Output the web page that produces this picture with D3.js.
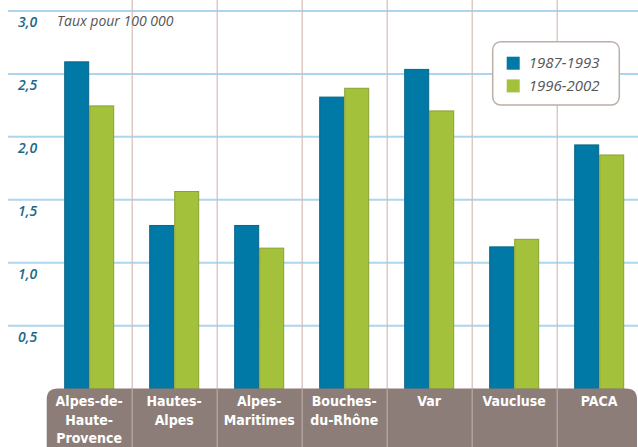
<!DOCTYPE html>
<html>
<head>
<meta charset="utf-8">
<script src="https://cdn.jsdelivr.net/npm/d3@7"></script>
<style>
  html, body { margin: 0; padding: 0; background: #fff; }
  svg { display: block; }
</style>
</head>
<body>
<div id="chart"></div>
<script>
// Données
const categories = [
  ["Alpes-de-", "Haute-", "Provence"],
  ["Hautes-", "Alpes"],
  ["Alpes-", "Maritimes"],
  ["Bouches-", "du-Rhône"],
  ["Var"],
  ["Vaucluse"],
  ["PACA"],
];
const series = ["1987-1993", "1996-2002"];
const values1987 = [2.60, 1.30, 1.30, 2.32, 2.54, 1.13, 1.94];
const values1996 = [2.25, 1.57, 1.12, 2.39, 2.21, 1.19, 1.86];
const yTicks = [0.5, 1.0, 1.5, 2.0, 2.5, 3.0];

// Couleurs
const colors = { "1987-1993": "#0079a6", "1996-2002": "#a4c13b" };
const strokes = { "1987-1993": "#0a6585", "1996-2002": "#88a232" };

const width = 638, height = 447;
const svg = d3.select("#chart").append("svg")
  .attr("width", width).attr("height", height);

const keys = categories.map((c) => c.join(""));
const x = d3.scaleBand().domain(keys).range([46.7, 641.7]).padding(0);
const xs = d3.scaleBand().domain(series).range([0, 50]).padding(0);
const y = d3.scaleLinear().domain([0, 3]).range([388.6, 11]);

// Grille horizontale
svg.append("g").selectAll("line").data(yTicks).enter().append("line")
  .attr("x1", 8).attr("x2", width)
  .attr("y1", (d) => y(d)).attr("y2", (d) => y(d))
  .attr("stroke", "#acd6ee").attr("stroke-width", 2);

// Séparateurs verticaux
const seps = keys.slice(1);
svg.append("g").selectAll("line").data(seps).enter().append("line")
  .attr("x1", (d) => x(d) + 0.5).attr("x2", (d) => x(d) + 0.5)
  .attr("y1", 0).attr("y2", y(0))
  .attr("stroke", "#d5bdb5").attr("stroke-width", 1.2);

// Étiquettes de l'axe Y
svg.append("g").selectAll("text").data(yTicks).enter().append("text")
  .attr("x", 18).attr("y", (d) => y(d) + 16)
  .attr("font-family", "'Open Sans', sans-serif")
  .attr("font-style", "italic").attr("font-weight", 600).attr("font-size", 14)
  .attr("fill", "#1c6886")
  .text((d) => d3.format(".1f")(d).replace(".", ","));

svg.append("text")
  .attr("x", 57).attr("y", 26)
  .attr("font-family", "'Open Sans', sans-serif")
  .attr("font-style", "italic").attr("font-size", 14)
  .attr("fill", "#555")
  .text("Taux pour 100 000");

// Barres
const rows = keys.map((k, i) => ({ key: k, "1987-1993": values1987[i], "1996-2002": values1996[i] }));
const groups = svg.append("g").selectAll("g").data(rows).enter().append("g")
  .attr("transform", (d) => `translate(${x(d.key) + x.bandwidth() / 2 - 25},0)`);

groups.selectAll("rect")
  .data((d) => series.map((s) => ({ s, v: d[s] })))
  .enter().append("rect")
  .attr("x", (d) => xs(d.s) + 0.5)
  .attr("y", (d) => y(d.v) + 0.5)
  .attr("width", xs.bandwidth() - 1)
  .attr("height", (d) => y(0) - y(d.v))
  .attr("fill", (d) => colors[d.s])
  .attr("stroke", (d) => strokes[d.s]);

// Bandeau des catégories
const bandTop = y(0);
const bx0 = 46.7, bx1 = 637, r = 11;
svg.append("path")
  .attr("d", `M${bx0},${height + 2} L${bx0},${bandTop + r} Q${bx0},${bandTop} ${bx0 + r},${bandTop}
    L${bx1 - r},${bandTop} Q${bx1},${bandTop} ${bx1},${bandTop + r} L${bx1},${height + 2} Z`)
  .attr("fill", "#8d7d78");

svg.append("g").selectAll("line").data(seps).enter().append("line")
  .attr("x1", (d) => x(d) + 0.5).attr("x2", (d) => x(d) + 0.5)
  .attr("y1", bandTop).attr("y2", height)
  .attr("stroke", "#b9aaa6").attr("stroke-width", 1.2);

const labels = svg.append("g").selectAll("text").data(categories).enter().append("text")
  .attr("text-anchor", "middle")
  .attr("font-family", "'DejaVu Sans Condensed', sans-serif")
  .attr("font-stretch", "condensed")
  .attr("font-weight", "bold").attr("font-size", 14)
  .attr("fill", "#fff");
labels.selectAll("tspan").data((d) => d.map((t) => ({ t, k: d.join("") }))).enter().append("tspan")
  .attr("x", (d) => x(d.k) + x.bandwidth() / 2)
  .attr("y", (d, i) => 406 + i * 18.5)
  .text((d) => d.t);

// Légende
const lg = svg.append("g").attr("transform", "translate(492.7,41.7)");
lg.append("rect")
  .attr("width", 126.6).attr("height", 63.3).attr("rx", 8)
  .attr("fill", "#fff").attr("stroke", "#bcaea8").attr("stroke-width", 1.5);
series.forEach((s, i) => {
  lg.append("rect").attr("x", 14).attr("y", 15 + i * 22.7)
    .attr("width", 13).attr("height", 13).attr("fill", colors[s]);
  lg.append("text").attr("x", 36).attr("y", 26.5 + i * 22.7)
    .attr("font-family", "'Open Sans', sans-serif")
    .attr("font-style", "italic").attr("font-size", 15)
    .attr("fill", "#555").text(s);
});
</script>
</body>
</html>
